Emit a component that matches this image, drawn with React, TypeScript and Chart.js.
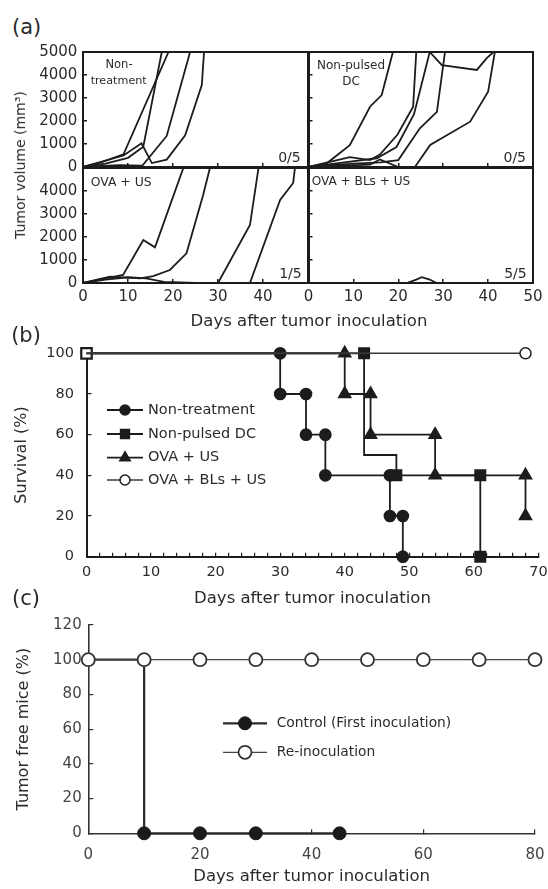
import React, { useEffect, useRef } from 'react';
import { Chart, registerables } from 'chart.js';

Chart.register(...registerables);

const FONT = "'DejaVu Sans', 'Liberation Sans', Arial, sans-serif";
const INK = '#1c1c1c';
const TEXT = '#2b2b2b';

// ---------- (a) tumour volume curves: [day, volume mm3] ----------
const nonTreatment1 = [[0, 0], [4, 200], [9, 550], [19, 5000]];
const nonTreatment2 = [[0, 0], [5, 150], [10, 400], [13.4, 880], [17.5, 5000]];
const nonTreatment3 = [[0, 0], [9, 500], [13, 1030], [15.3, 170], [18.6, 320], [22.7, 1380], [26.4, 3560], [26.9, 5000]];
const nonTreatment4 = [[0, 0], [8, 80], [13.2, 60], [18.6, 1350], [23.8, 5000]];

const nonPulsedDC1 = [[0, 0], [4, 150], [9.2, 950], [13.7, 2620], [16.3, 3130], [18.8, 5000]];
const nonPulsedDC2 = [[0, 0], [9.2, 430], [13.7, 300], [15.9, 540], [19.8, 1400], [23.3, 2620], [24, 5000]];
const nonPulsedDC3 = [[0, 0], [8, 200], [15.2, 380], [19.6, 870], [23.5, 2300], [27, 5000], [29.7, 4430], [37.5, 4220], [39.7, 4730], [41.2, 5000]];
const nonPulsedDC4 = [[0, 0], [10, 150], [16, 200], [20, 300], [24.8, 1680], [28.6, 2400], [30.4, 5000]];
const nonPulsedDC5 = [[0, 0], [13.7, 100], [15.9, 330], [20, 0], [23.7, 0], [27.1, 960], [36, 1970], [40, 3270], [41.5, 5000]];

const ovaUS1 = [[0, 0], [8.9, 350], [13.4, 1870], [16, 1550], [22.3, 5000]];
const ovaUS2 = [[0, 0], [6, 275], [12.7, 200], [15.6, 300], [19.3, 565], [23, 1290], [26.7, 3830], [28.2, 5000]];
const ovaUS3 = [[0, 0], [30, 0], [37.1, 2520], [39, 5000]];
const ovaUS4 = [[0, 0], [37.1, 0], [43.8, 3610], [46.7, 4350], [47.1, 5000]];
const ovaUS5 = [[0, 0], [5, 150], [10, 250], [14, 200], [18, 50], [25, 0], [50, 0]];

const ovaBLsUS1 = [[0, 0], [21.9, 0], [24, 150], [25.2, 250], [27, 150], [28.5, 0], [50, 0]];
const ovaBLsUS2 = [[0, 0], [50, 0]];

const volMax = 5000;
const volStep = 1000;
const dayMaxA = 50;
const dayStepA = 10;

// ---------- (b) survival (%) ----------
const ntSurvDays = [0, 30, 30, 34, 34, 37, 37, 47, 47, 49, 49];
const ntSurv = [100, 100, 80, 80, 60, 60, 40, 40, 20, 20, 0];
const ntMarks = [0, 1, 1, 1, 1, 1, 1, 1, 1, 1, 1];
const dcSurvDays = [0, 43, 43, 48, 48, 61, 61];
const dcSurv = [100, 100, 50, 50, 40, 40, 0];
const dcMarks = [1, 1, 0, 0, 1, 1, 1];
const ouSurvDays = [0, 40, 40, 44, 44, 54, 54, 68, 68];
const ouSurv = [100, 100, 80, 80, 60, 60, 40, 40, 20];
const ouMarks = [0, 1, 1, 1, 1, 1, 1, 1, 1];
const obSurvDays = [0, 68];
const obSurv = [100, 100];
const obMarks = [0, 1];
const survLegend = ['Non-treatment', 'Non-pulsed DC', 'OVA + US', 'OVA + BLs + US'];

// ---------- (c) tumour free mice (%) ----------
const reDays = [0, 10, 20, 30, 40, 50, 60, 70, 80];
const reFree = [100, 100, 100, 100, 100, 100, 100, 100, 100];
const ctrlDays = [0, 10, 10, 20, 30, 45];
const ctrlFree = [100, 100, 0, 0, 0, 0];
const ctrlMarks = [0, 0, 1, 1, 1, 1];
const freeLegend = ['Control (First inoculation)', 'Re-inoculation'];

const toXY = (pts: number[][]) => pts.map(([x, y]) => ({ x, y }));
const zipXY = (xs: number[], ys: number[]) => xs.map((x, i) => ({ x, y: ys[i] }));

interface Box { W: number; H: number; l: number; t: number; r: number; b: number; yW: number; xH: number }

function baseOptions(L: Box, x: any, y: any, extra: any = {}) {
  x.afterFit = (s: any) => { s.height = L.xH; s.paddingLeft = 0; s.paddingRight = 0; };
  y.afterFit = (s: any) => { s.width = L.yW; s.paddingTop = 0; s.paddingBottom = 0; };
  return {
    responsive: false,
    animation: false,
    devicePixelRatio: 1,
    events: [],
    layout: { padding: { left: L.l - L.yW, top: L.t, right: L.W - L.r, bottom: L.H - L.b - L.xH } },
    plugins: { legend: { display: false }, tooltip: { enabled: false }, ...extra },
    scales: { x, y },
  };
}

const framePlugin = {
  id: 'frame',
  afterDraw(chart: any) {
    const { ctx, chartArea: a } = chart;
    ctx.save();
    ctx.strokeStyle = INK;
    ctx.lineWidth = 2;
    ctx.strokeRect(a.left, a.top, a.right - a.left, a.bottom - a.top);
    ctx.restore();
  },
};

function drawMarker(ctx: any, style: string, x: number, y: number, r: number, fill: string, stroke: string, lw: number) {
  ctx.beginPath();
  if (style === 'rect') {
    const s = Math.SQRT1_2 * r;
    ctx.rect(x - s, y - s, 2 * s, 2 * s);
  } else if (style === 'triangle') {
    for (let k = 0; k < 3; k++) {
      const a = -Math.PI / 2 + (k * 2 * Math.PI) / 3;
      const px = x + r * Math.cos(a);
      const py = y + r * Math.sin(a);
      if (k) ctx.lineTo(px, py); else ctx.moveTo(px, py);
    }
    ctx.closePath();
  } else {
    ctx.arc(x, y, r, 0, Math.PI * 2);
  }
  ctx.fillStyle = fill;
  ctx.fill();
  ctx.strokeStyle = stroke;
  ctx.lineWidth = lw;
  ctx.stroke();
}

function legendPlugin(order: string[], rows: number[], x0: number, x1: number, tx: number, size: number, radius: number) {
  return {
    id: 'insideLegend',
    afterDraw(chart: any) {
      const ctx = chart.ctx;
      ctx.save();
      order.forEach((label, i) => {
        const ds = chart.data.datasets.find((d: any) => d.label === label);
        if (!ds) return;
        const y = rows[i];
        ctx.strokeStyle = ds.borderColor;
        ctx.lineWidth = ds.borderWidth;
        ctx.beginPath();
        ctx.moveTo(x0, y);
        ctx.lineTo(x1, y);
        ctx.stroke();
        const bg = Array.isArray(ds.pointBackgroundColor)
          ? ds.pointBackgroundColor[ds.pointBackgroundColor.length - 1]
          : ds.pointBackgroundColor;
        const bw = Array.isArray(ds.pointBorderWidth)
          ? ds.pointBorderWidth[ds.pointBorderWidth.length - 1]
          : ds.pointBorderWidth;
        const r = ds.pointStyle === 'rect' ? radius * 1.25 : ds.pointStyle === 'triangle' ? radius * 1.2 : radius;
        drawMarker(ctx, ds.pointStyle, (x0 + x1) / 2, y, r, bg, ds.pointBorderColor, bw);
        ctx.fillStyle = TEXT;
        ctx.font = `${size}px ${FONT}`;
        ctx.textAlign = 'left';
        ctx.textBaseline = 'middle';
        ctx.fillText(label, tx, y);
      });
      ctx.restore();
    },
  };
}

function growthConfig(curves: number[][][], L: Box, showY: boolean, showX: boolean, hideLastX: boolean, hideTopY: boolean) {
  const x = {
    type: 'linear', min: 0, max: dayMaxA,
    ticks: {
      stepSize: dayStepA, display: showX, autoSkip: false, maxRotation: 0,
      font: { family: FONT, size: 15 }, color: TEXT, padding: 9.5,
      callback: (v: number) => (hideLastX && v === dayMaxA ? '' : String(v)),
    },
    grid: { drawOnChartArea: false, tickLength: -4, color: INK, lineWidth: 1.5 },
    border: { display: true, color: INK, width: 2 },
  };
  const y = {
    type: 'linear', min: 0, max: volMax,
    ticks: {
      stepSize: volStep, display: showY, autoSkip: false,
      font: { family: FONT, size: 15 }, color: TEXT, padding: 9.7,
      callback: (v: number) => (hideTopY && v === volMax ? '' : String(v)),
    },
    grid: { drawOnChartArea: false, tickLength: -4, color: INK, lineWidth: 1.5 },
    border: { display: true, color: INK, width: 2 },
  };
  return {
    type: 'line',
    data: {
      datasets: curves.map((c) => ({
        data: toXY(c), borderColor: INK, borderWidth: 1.8, pointRadius: 0, tension: 0, fill: false,
      })),
    },
    options: baseOptions(L, x, y),
    plugins: [framePlugin],
  };
}

function survivalConfig(L: Box) {
  const x = {
    type: 'linear', min: 0, max: 70,
    ticks: {
      stepSize: 2, autoSkip: false, maxRotation: 0,
      font: { family: FONT, size: 14.5 }, color: TEXT, padding: 10.6,
      callback: (v: number) => (v % 10 === 0 ? String(v) : ''),
    },
    grid: { drawOnChartArea: false, tickLength: -4, color: INK, lineWidth: 1.2 },
    border: { display: true, color: INK, width: 2 },
    title: { display: true, text: 'Days after tumor inoculation', font: { family: FONT, size: 16.5 }, color: TEXT, padding: 0 },
  };
  const y = {
    type: 'linear', min: 0, max: 100,
    ticks: { stepSize: 20, autoSkip: false, font: { family: FONT, size: 14.5 }, color: TEXT, padding: 17.5 },
    grid: { drawOnChartArea: false, tickLength: -5, color: INK, lineWidth: 1.2 },
    border: { display: true, color: INK, width: 2 },
    title: { display: true, text: 'Survival (%)', font: { family: FONT, size: 16 }, color: TEXT, padding: 0 },
  };
  const common = { tension: 0, fill: false, clip: false, pointBorderColor: INK, pointBorderWidth: 1.5, borderWidth: 1.8, borderColor: INK };
  return {
    type: 'line',
    data: {
      datasets: [
        {
          ...common, label: 'OVA + BLs + US', data: zipXY(obSurvDays, obSurv), order: 0,
          borderColor: '#3a3a3a', borderWidth: 1.4, pointStyle: 'circle',
          pointRadius: obMarks.map((m) => (m ? 5.5 : 0)), pointBackgroundColor: '#ffffff',
        },
        {
          ...common, label: 'Non-treatment', data: zipXY(ntSurvDays, ntSurv), order: 1, pointStyle: 'circle',
          pointRadius: ntMarks.map((m) => (m ? 5.6 : 0)), pointBackgroundColor: INK,
        },
        {
          ...common, label: 'Non-pulsed DC', data: zipXY(dcSurvDays, dcSurv), order: 2, pointStyle: 'rect',
          pointRadius: dcMarks.map((m) => (m ? 7.4 : 0)),
          pointBackgroundColor: dcMarks.map((_, i) => (i === 0 ? '#ffffff' : INK)),
          pointBorderWidth: dcMarks.map((_, i) => (i === 0 ? 2.2 : 1.5)),
        },
        {
          ...common, label: 'OVA + US', data: zipXY(ouSurvDays, ouSurv), order: 1, pointStyle: 'triangle',
          pointRadius: ouMarks.map((m) => (m ? 7 : 0)), pointBackgroundColor: INK,
        },
      ],
    },
    options: baseOptions(L, x, y),
    plugins: [legendPlugin(survLegend, [90, 114, 137.7, 160], 107, 143, 148, 14.5, 5)],
  };
}

function freeConfig(L: Box) {
  const x = {
    type: 'linear', min: 0, max: 80,
    ticks: { stepSize: 20, autoSkip: false, maxRotation: 0, font: { family: FONT, size: 15 }, color: '#444', padding: 17.2 },
    grid: { drawOnChartArea: false, tickLength: -4, color: '#333', lineWidth: 1.2 },
    border: { display: true, color: '#333', width: 1.6 },
    title: { display: true, text: 'Days after tumor inoculation', font: { family: FONT, size: 16.5 }, color: TEXT, padding: 0 },
  };
  const y = {
    type: 'linear', min: 0, max: 120,
    ticks: { stepSize: 20, autoSkip: false, font: { family: FONT, size: 15 }, color: '#444', padding: 11.6 },
    grid: { drawOnChartArea: false, tickLength: -5, color: '#333', lineWidth: 1.2 },
    border: { display: true, color: '#333', width: 1.6 },
    title: { display: true, text: 'Tumor free mice (%)', font: { family: FONT, size: 16 }, color: TEXT, padding: 0 },
  };
  return {
    type: 'line',
    data: {
      datasets: [
        {
          label: 'Re-inoculation', data: zipXY(reDays, reFree), order: 0, tension: 0, fill: false, clip: false,
          borderColor: '#444', borderWidth: 1.3, pointStyle: 'circle', pointRadius: 6.5,
          pointBackgroundColor: '#ffffff', pointBorderColor: '#333', pointBorderWidth: 1.8,
        },
        {
          label: 'Control (First inoculation)', data: zipXY(ctrlDays, ctrlFree), order: 1, tension: 0, fill: false, clip: false,
          borderColor: '#2a2a2a', borderWidth: 2.2, pointStyle: 'circle',
          pointRadius: ctrlMarks.map((m) => (m ? 6.5 : 0)),
          pointBackgroundColor: '#1a1a1a', pointBorderColor: '#1a1a1a', pointBorderWidth: 1,
        },
      ],
    },
    options: baseOptions(L, x, y),
    plugins: [legendPlugin(freeLegend, [111.3, 140.3], 223, 267, 276.7, 13.8, 6.5)],
  };
}

function ChartCanvas({ left, top, L, make }: { left: number; top: number; L: Box; make: () => any }) {
  const ref = useRef<HTMLCanvasElement>(null);
  useEffect(() => {
    const chart = new Chart(ref.current as HTMLCanvasElement, make());
    return () => chart.destroy();
  }, []);
  return (
    <canvas
      ref={ref}
      width={L.W}
      height={L.H}
      style={{ position: 'absolute', left, top, width: L.W, height: L.H }}
    />
  );
}

function Txt({ x, y, size, children, anchor = 'center', rotate = false, color = TEXT }: any) {
  const tx = anchor === 'left' ? '0' : anchor === 'right' ? '-100%' : '-50%';
  return (
    <div
      style={{
        position: 'absolute', left: x, top: y,
        transform: `translate(${tx}, -50%)${rotate ? ' rotate(-90deg)' : ''}`,
        fontFamily: FONT, fontSize: size, lineHeight: 1, color, whiteSpace: 'nowrap',
      }}
    >
      {children}
    </div>
  );
}

const boxTL: Box = { W: 310, H: 132, l: 83, t: 12, r: 308, b: 127, yW: 73, xH: 0 };
const boxTR: Box = { W: 248, H: 132, l: 8.5, t: 12, r: 233, b: 127, yW: 0, xH: 0 };
const boxBL: Box = { W: 310, H: 160, l: 83, t: 8, r: 308, b: 123, yW: 73, xH: 30 };
const boxBR: Box = { W: 248, H: 160, l: 8.5, t: 8, r: 233, b: 123, yW: 0, xH: 30 };
const boxB: Box = { W: 548, H: 292, l: 86.5, t: 33.3, r: 540, b: 236.7, yW: 74.1, xH: 52.2 };
const boxC: Box = { W: 548, H: 277, l: 88.3, t: 13, r: 535, b: 221.3, yW: 73.9, xH: 53.8 };

export default function App() {
  return (
    <div style={{ position: 'absolute', left: 0, top: 0, width: 548, height: 889, background: '#fff', overflow: 'hidden' }}>
      {/* Panel (a) */}
      <ChartCanvas left={0} top={40} L={boxTL}
        make={() => growthConfig([nonTreatment1, nonTreatment2, nonTreatment3, nonTreatment4], boxTL, true, false, false, false)} />
      <ChartCanvas left={300} top={40} L={boxTR}
        make={() => growthConfig([nonPulsedDC1, nonPulsedDC2, nonPulsedDC3, nonPulsedDC4, nonPulsedDC5], boxTR, false, false, false, false)} />
      <ChartCanvas left={0} top={160} L={boxBL}
        make={() => growthConfig([ovaUS1, ovaUS2, ovaUS3, ovaUS4, ovaUS5], boxBL, true, true, true, true)} />
      <ChartCanvas left={300} top={160} L={boxBR}
        make={() => growthConfig([ovaBLsUS1, ovaBLsUS2], boxBR, false, true, false, true)} />

      <Txt x={26.7} y={27} size={21}>(a)</Txt>
      <Txt x={20} y={165} size={14} rotate>Tumor volume (mm³)</Txt>
      <Txt x={309} y={320.5} size={16.5}>Days after tumor inoculation</Txt>
      <Txt x={119} y={65} size={11.5}>Non-</Txt>
      <Txt x={118.7} y={81} size={11.2}>treatment</Txt>
      <Txt x={351} y={64.7} size={12}>Non-pulsed</Txt>
      <Txt x={351} y={81} size={12}>DC</Txt>
      <Txt x={90.7} y={181.7} size={12.4} anchor="left">OVA + US</Txt>
      <Txt x={311.7} y={181} size={12.1} anchor="left">OVA + BLs + US</Txt>
      <Txt x={300.7} y={156.7} size={14} anchor="right">0/5</Txt>
      <Txt x={526} y={156.7} size={14} anchor="right">0/5</Txt>
      <Txt x={301.7} y={272.5} size={14} anchor="right">1/5</Txt>
      <Txt x={526.7} y={272.5} size={14} anchor="right">5/5</Txt>

      {/* Panel (b) */}
      <ChartCanvas left={0} top={320} L={boxB} make={() => survivalConfig(boxB)} />
      <Txt x={26} y={335} size={21}>(b)</Txt>

      {/* Panel (c) */}
      <ChartCanvas left={0} top={612} L={boxC} make={() => freeConfig(boxC)} />
      <Txt x={26} y={598} size={21}>(c)</Txt>
    </div>
  );
}
